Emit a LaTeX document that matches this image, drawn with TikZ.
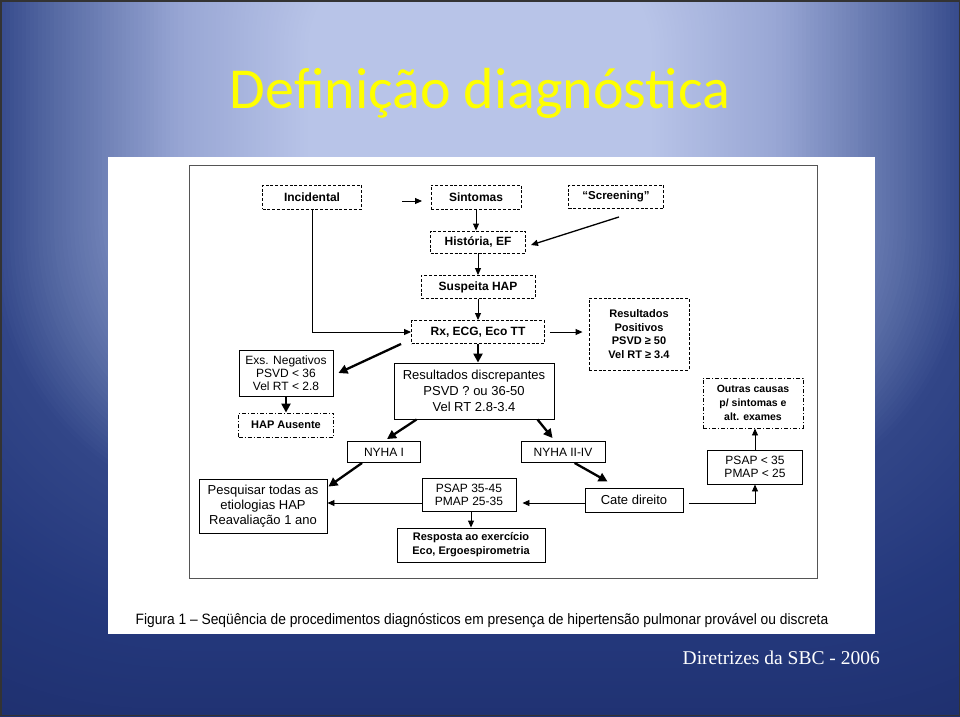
\documentclass[tikz,border=0pt]{standalone}
\usepackage{fontspec}
\setmainfont{Liberation Sans}
\newfontfamily\titlefont{Carlito}
\newfontfamily\footfont{Liberation Serif}
\usetikzlibrary{arrows.meta,calc}
\definecolor{bgA}{RGB}{184,196,232}
\definecolor{bgB}{RGB}{152,166,212}
\definecolor{bgC}{RGB}{84,104,162}
\definecolor{bgD}{RGB}{50,70,136}
\definecolor{bgE}{RGB}{36,56,124}
\definecolor{bgF}{RGB}{28,44,104}
\definecolor{titleyellow}{HTML}{FFFF00}
\definecolor{framegray}{HTML}{555555}
\tikzset{
  box/.style={draw=black, line width=0.9pt, align=center, inner sep=0pt, fill=white,
    font=\fontsize{12}{14}\selectfont},
  dbox/.style={box, dash pattern=on 3pt off 1.8pt, font=\bfseries\fontsize{12}{14}\selectfont},
  ddbox/.style={box, dash pattern=on 4pt off 2pt on 1pt off 2pt},
  arr/.style={-{Triangle[length=7pt,width=6pt]}, line width=0.9pt},
  tarr/.style={-{Triangle[length=9pt,width=9pt]}, line width=2.3pt},
  bgring/.style={rounded corners=0.55*#1 pt},
}
\begin{document}
\begin{tikzpicture}[x=1pt,y=-1pt]
\useasboundingbox (0,0) rectangle (960,716);
% background: rounded rectangular path gradient
\begin{scope}
\clip (0,0) rectangle (960,716);
\fill[bgF] (0,0) rectangle (960,716);
\foreach \dd in {900,896,...,620} {\pgfmathtruncatemacro\pp{min(100,(\dd-620)/(840-620)*100)}\pgfmathsetmacro\rr{0.55*\dd}
  \fill[bgF!\pp!bgE, rounded corners=\rr pt] (480-\dd,100-0.85*\dd) rectangle (480+\dd,100+0.85*\dd);}
\foreach \dd in {616,612,...,490} {\pgfmathtruncatemacro\pp{(\dd-490)/(620-490)*100}\pgfmathsetmacro\rr{0.55*\dd}
  \fill[bgE!\pp!bgD, rounded corners=\rr pt] (480-\dd,100-0.85*\dd) rectangle (480+\dd,100+0.85*\dd);}
\foreach \dd in {486,482,...,430} {\pgfmathtruncatemacro\pp{(\dd-430)/(490-430)*100}\pgfmathsetmacro\rr{0.55*\dd}
  \fill[bgD!\pp!bgC, rounded corners=\rr pt] (480-\dd,100-0.85*\dd) rectangle (480+\dd,100+0.85*\dd);}
\foreach \dd in {426,422,...,300} {\pgfmathtruncatemacro\pp{(\dd-300)/(430-300)*100}\pgfmathsetmacro\rr{0.55*\dd}
  \fill[bgC!\pp!bgB, rounded corners=\rr pt] (480-\dd,100-0.85*\dd) rectangle (480+\dd,100+0.85*\dd);}
\foreach \dd in {296,292,...,170} {\pgfmathtruncatemacro\pp{(\dd-170)/(300-170)*100}\pgfmathsetmacro\rr{0.55*\dd}
  \fill[bgB!\pp!bgA, rounded corners=\rr pt] (480-\dd,100-0.85*\dd) rectangle (480+\dd,100+0.85*\dd);}
\end{scope}
\draw[black!80, line width=1.5pt] (0.75,0.75) rectangle (959.25,715.25);
% title
\node[anchor=base, text=titleyellow, font=\titlefont\fontsize{58}{60}\selectfont, inner sep=0pt] (title) at (480,108) {Definição diagnóstica};
% white panel and frame
\fill[white] (108,157) rectangle (875,634);
\draw[framegray, line width=0.9pt] (189,165) rectangle (817,578);
% nodes
\node[dbox, minimum width=99pt, minimum height=24pt] (inc) at (312,197) {Incidental};
\node[dbox, minimum width=90pt, minimum height=24pt] (sin) at (476,197) {Sintomas};
\node[dbox, minimum width=95pt, minimum height=23pt, font=\bfseries\fontsize{11.5}{14}\selectfont] (scr) at (616,197) {“Screening”};
\node[dbox, minimum width=95pt, minimum height=22pt] (his) at (478,242) {História, EF};
\node[dbox, minimum width=114pt, minimum height=23pt] (sus) at (478,287) {Suspeita HAP};
\node[dbox, minimum width=133pt, minimum height=23pt] (rx) at (478,332) {Rx, ECG, Eco TT};
\node[dbox, minimum width=100pt, minimum height=72pt, font=\bfseries\fontsize{11}{13.7}\selectfont] (pos) at (639,334) {Resultados\\Positivos\\PSVD ≥ 50\\Vel RT ≥ 3.4};
\node[box, minimum width=94pt, minimum height=46pt, font=\fontsize{12}{13}\selectfont] (neg) at (286,373) {Exs. Negativos\\PSVD < 36\\Vel RT < 2.8};
\node[ddbox, minimum width=95pt, minimum height=24pt, font=\bfseries\fontsize{11}{14}\selectfont] (aus) at (286,425) {HAP Ausente};
\node[box, minimum width=160pt, minimum height=56pt, font=\fontsize{13}{16}\selectfont] (dis) at (474,391) {Resultados discrepantes\\PSVD ? ou 36-50\\Vel RT 2.8-3.4};
\node[box, minimum width=73pt, minimum height=21pt] (ny1) at (384,452) {NYHA I};
\node[box, minimum width=84pt, minimum height=21pt] (ny2) at (563,452) {NYHA II-IV};
\node[box, minimum width=128pt, minimum height=54pt, font=\fontsize{13}{15}\selectfont] (pes) at (263,506) {Pesquisar todas as\\etiologias HAP\\Reavaliação 1 ano};
\node[box, minimum width=94pt, minimum height=33pt, font=\fontsize{12}{13.5}\selectfont] (p35) at (469,495) {PSAP 35-45\\PMAP 25-35};
\node[box, minimum width=148pt, minimum height=34pt, font=\bfseries\fontsize{11}{14}\selectfont] (resp) at (471,545) {Resposta ao exercício\\Eco, Ergoespirometria};
\node[box, minimum width=98pt, minimum height=24pt, font=\fontsize{13}{15}\selectfont] (cate) at (634,500) {Cate direito};
\node[box, minimum width=95pt, minimum height=34pt, font=\fontsize{12}{13.5}\selectfont] (plt) at (755,467) {PSAP < 35\\PMAP < 25};
\node[ddbox, minimum width=100pt, minimum height=50pt, font=\bfseries\fontsize{10.5}{14}\selectfont] (out) at (753,403) {Outras causas\\p/ sintomas e\\alt. exames};
% free arrow into Sintomas
\coordinate (fa1) at (402,201);
\coordinate (fa2) at (422,201);
\draw[arr] (fa1) -- (fa2);
% connectors
\draw[arr] (sin.south) -- (sin.south |- his.north);
\draw[arr, line width=1.3pt] ($(scr.south)+(3,8)$) -- ($(his.east)+(5,3)$);
\draw[arr] (his.south) -- (his.south |- sus.north);
\draw[arr] (sus.south) -- (sus.south |- rx.north);
\draw[arr] (inc.south) |- (rx.west);
\draw[arr, shorten <=5pt, shorten >=6pt] (rx.east) -- (rx.east -| pos.west);
\draw[tarr] ($(rx.south west)+(-10,0)$) -- ($(neg.east)+(5,0)$);
\draw[tarr] (neg.south) -- (neg.south |- aus.north);
\draw[tarr] (rx.south) -- (rx.south |- dis.north);
\draw[tarr] ($(dis.south west)+(23,0)$) -- ($(ny1.north)+(3,-2)$);
\draw[tarr] ($(dis.south east)+(-17,0)$) -- ($(ny2.north west)+(32,-3)$);
\draw[tarr] ($(ny1.south west)+(15,0)$) -- ($(pes.north east)+(1,8)$);
\draw[arr] ($(p35.west)+(0,8)$) -- ($(pes.east)+(0,-3)$);
\draw[arr] ($(p35.south)+(2,0)$) -- ($(resp.north)+(0,0)$);
\draw[tarr] ($(ny2.south west)+(54,0)$) -- ($(cate.north west)+(23,-6)$);
\draw[arr] ($(cate.west)+(0,3)$) -- ($(p35.east)+(6,8)$);
\draw[arr] ($(cate.east)+(6,3)$) -| (plt.south);
\draw[arr] (plt.north) -- (plt.north |- out.south);
% caption
\node[font=\fontsize{15}{17}\selectfont, inner sep=0pt, anchor=base] (cap) at (482,624) {\scalebox{0.92}[1]{Figura 1 – Seqüência de procedimentos diagnósticos em presença de hipertensão pulmonar provável ou discreta}};
% footer
\node[font=\footfont\fontsize{19.5}{21}\selectfont, text=white, inner sep=0pt, anchor=base east] (foot) at (880,664) {Diretrizes da SBC - 2006};
\end{tikzpicture}
\end{document}
